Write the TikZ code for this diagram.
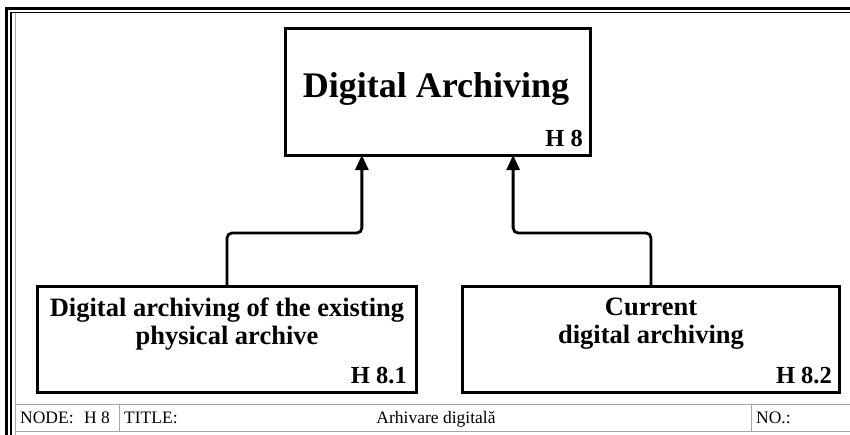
\documentclass[tikz,border=0pt]{standalone}
\usepackage{fontspec}
\setmainfont{Liberation Serif}
\usetikzlibrary{arrows.meta,calc}

\begin{document}
\begin{tikzpicture}[
            x=1pt,
            y=-1pt,
            fnbox/.style={draw, line width=3pt, inner sep=0pt, outer sep=0pt},
            boxtext/.style={inner sep=0pt, align=center, font=\fontsize{26.5}{28}\selectfont\bfseries},
            boxcode/.style={inner sep=0pt, anchor=base east, font=\fontsize{24.5}{24.5}\selectfont\bfseries},
            conn/.style={draw, line width=2.8pt, rounded corners=5pt, -{Triangle[length=15pt,width=13pt]}},
            cell/.style={draw=gray!70, line width=0.9pt},
            celltext/.style={inner sep=0pt, anchor=base west, font=\fontsize{17.5}{17.5}\selectfont}
        ]
        \useasboundingbox (0,0) rectangle (850,434);
        % frame
        \draw[line width=3pt] (6,8) rectangle (880,470);
        \draw[line width=1.3pt] (11,12.5) rectangle (875,465);
        \draw[cell] (15.5,13) -- (15.5,465);
        \draw[cell] (15.5,404) -- (880,404);
        \draw[cell] (15.5,431) -- (880,431);
        \draw[cell] (119,404) -- (119,431);
        \draw[cell] (751,404) -- (751,431);
        % boxes
        \node[fnbox, minimum width=305pt, minimum height=127pt] (h8) at (437.5,91.5) {};
        \node[boxtext, font=\fontsize{36}{36}\selectfont\bfseries, anchor=base] (h8t) at (436,97) {Digital Archiving};
        \node[boxcode] (h8c) at (583,146) {H 8};
        \node[fnbox, minimum width=379pt, minimum height=106pt] (h81) at (227,339) {};
        \node[boxtext, anchor=north] (h81t) at (227,298) {Digital archiving of the existing\\physical archive};
        \node[boxcode] (h81c) at (407,383) {H 8.1};
        \node[fnbox, minimum width=377pt, minimum height=106pt] (h82) at (651,339) {};
        \node[boxtext, anchor=north] (h82t) at (651,298) {Current\\digital archiving};
        \node[boxcode] (h82c) at (832,383) {H 8.2};
        \foreach \c/\f in {h81/0.252, h82/0.748} {
            \draw[conn] (\c.north) -- ++(0,-53) -| ($(h8.south west)!\f!(h8.south east)$);
        }
        % title bar
        \node[celltext] (nodelbl) at (20,423) {NODE:};
        \node[celltext] (nodeval) at (84,423) {H 8};
        \node[celltext] (titlelbl) at (124,423) {TITLE:};
        \node[celltext, anchor=base] (titleval) at (436,423) {Arhivare digitală};
        \node[celltext] (nolbl) at (756,423) {NO.:};
    \end{tikzpicture}
\end{document}
